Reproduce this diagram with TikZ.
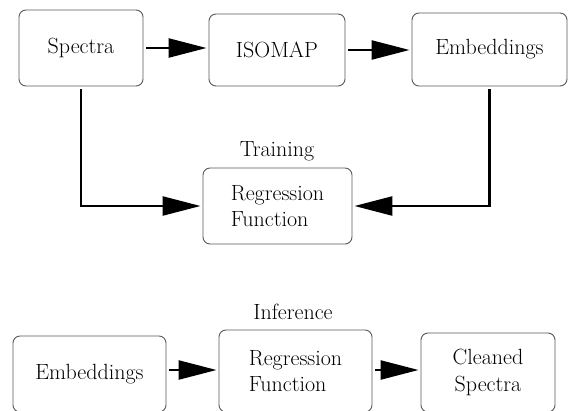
\documentclass[tikz,border=0pt]{standalone}
\usetikzlibrary{arrows.meta}

\begin{document}
\begin{tikzpicture}[x=1pt,y=-1pt,
  box/.style={draw=black!65,line width=0.9pt,rounded corners=7pt,inner sep=0pt,
              font=\fontsize{22}{26.7}\selectfont},
  lbl/.style={anchor=base,inner sep=0pt,font=\fontsize{22}{26.7}\selectfont},
  arr/.style={line width=2.4pt,-{Triangle[length=38pt,width=19pt]},shorten <=3pt,shorten >=2pt}]
\useasboundingbox (0,0) rectangle (568,410);
\clip (0,0) rectangle (568,410);

% training
\node (spectra)  at ( 81.0,  48.0) [box,minimum width=124pt,minimum height=76pt] {Spectra};
\node (isomap)   at (277.0,  50.0) [box,minimum width=136pt,minimum height=72pt] {ISOMAP};
\node (embtop)   at (489.5,  49.5) [box,minimum width=155pt,minimum height=73pt] {Embeddings};
\node (regtrain) at (277.5, 206.0) [box,minimum width=149pt,minimum height=76pt,align=left] {Regression\\Function};
\node (training) at (277.0, 156.0) [lbl] {Training};

\draw [arr] (spectra.east) -- (spectra.east -| isomap.west);
\draw [arr] (isomap.east)  -- (isomap.east -| embtop.west);
\draw [arr] (spectra.south) |- (regtrain.west);
\draw [arr] (embtop.south)  |- (regtrain.east);

% inference
\node (embbot)   at ( 89.5, 374.0) [box,minimum width=153pt,minimum height=76pt] {Embeddings};
\node (regbot)   at (295.5, 371.0) [box,minimum width=153pt,minimum height=82pt,align=left] {Regression\\Function};
\node (cleaned)  at (488.0, 372.5) [box,minimum width=134pt,minimum height=79pt,align=center] {Cleaned\\Spectra};
\node (inference) at (293.0, 319.0) [lbl] {Inference};
\coordinate (mid) at (0,370);

\draw [arr] (embbot.east |- mid) -- (regbot.west |- mid);
\draw [arr] (regbot.east |- mid) -- (cleaned.west |- mid);
\end{tikzpicture}
\end{document}
